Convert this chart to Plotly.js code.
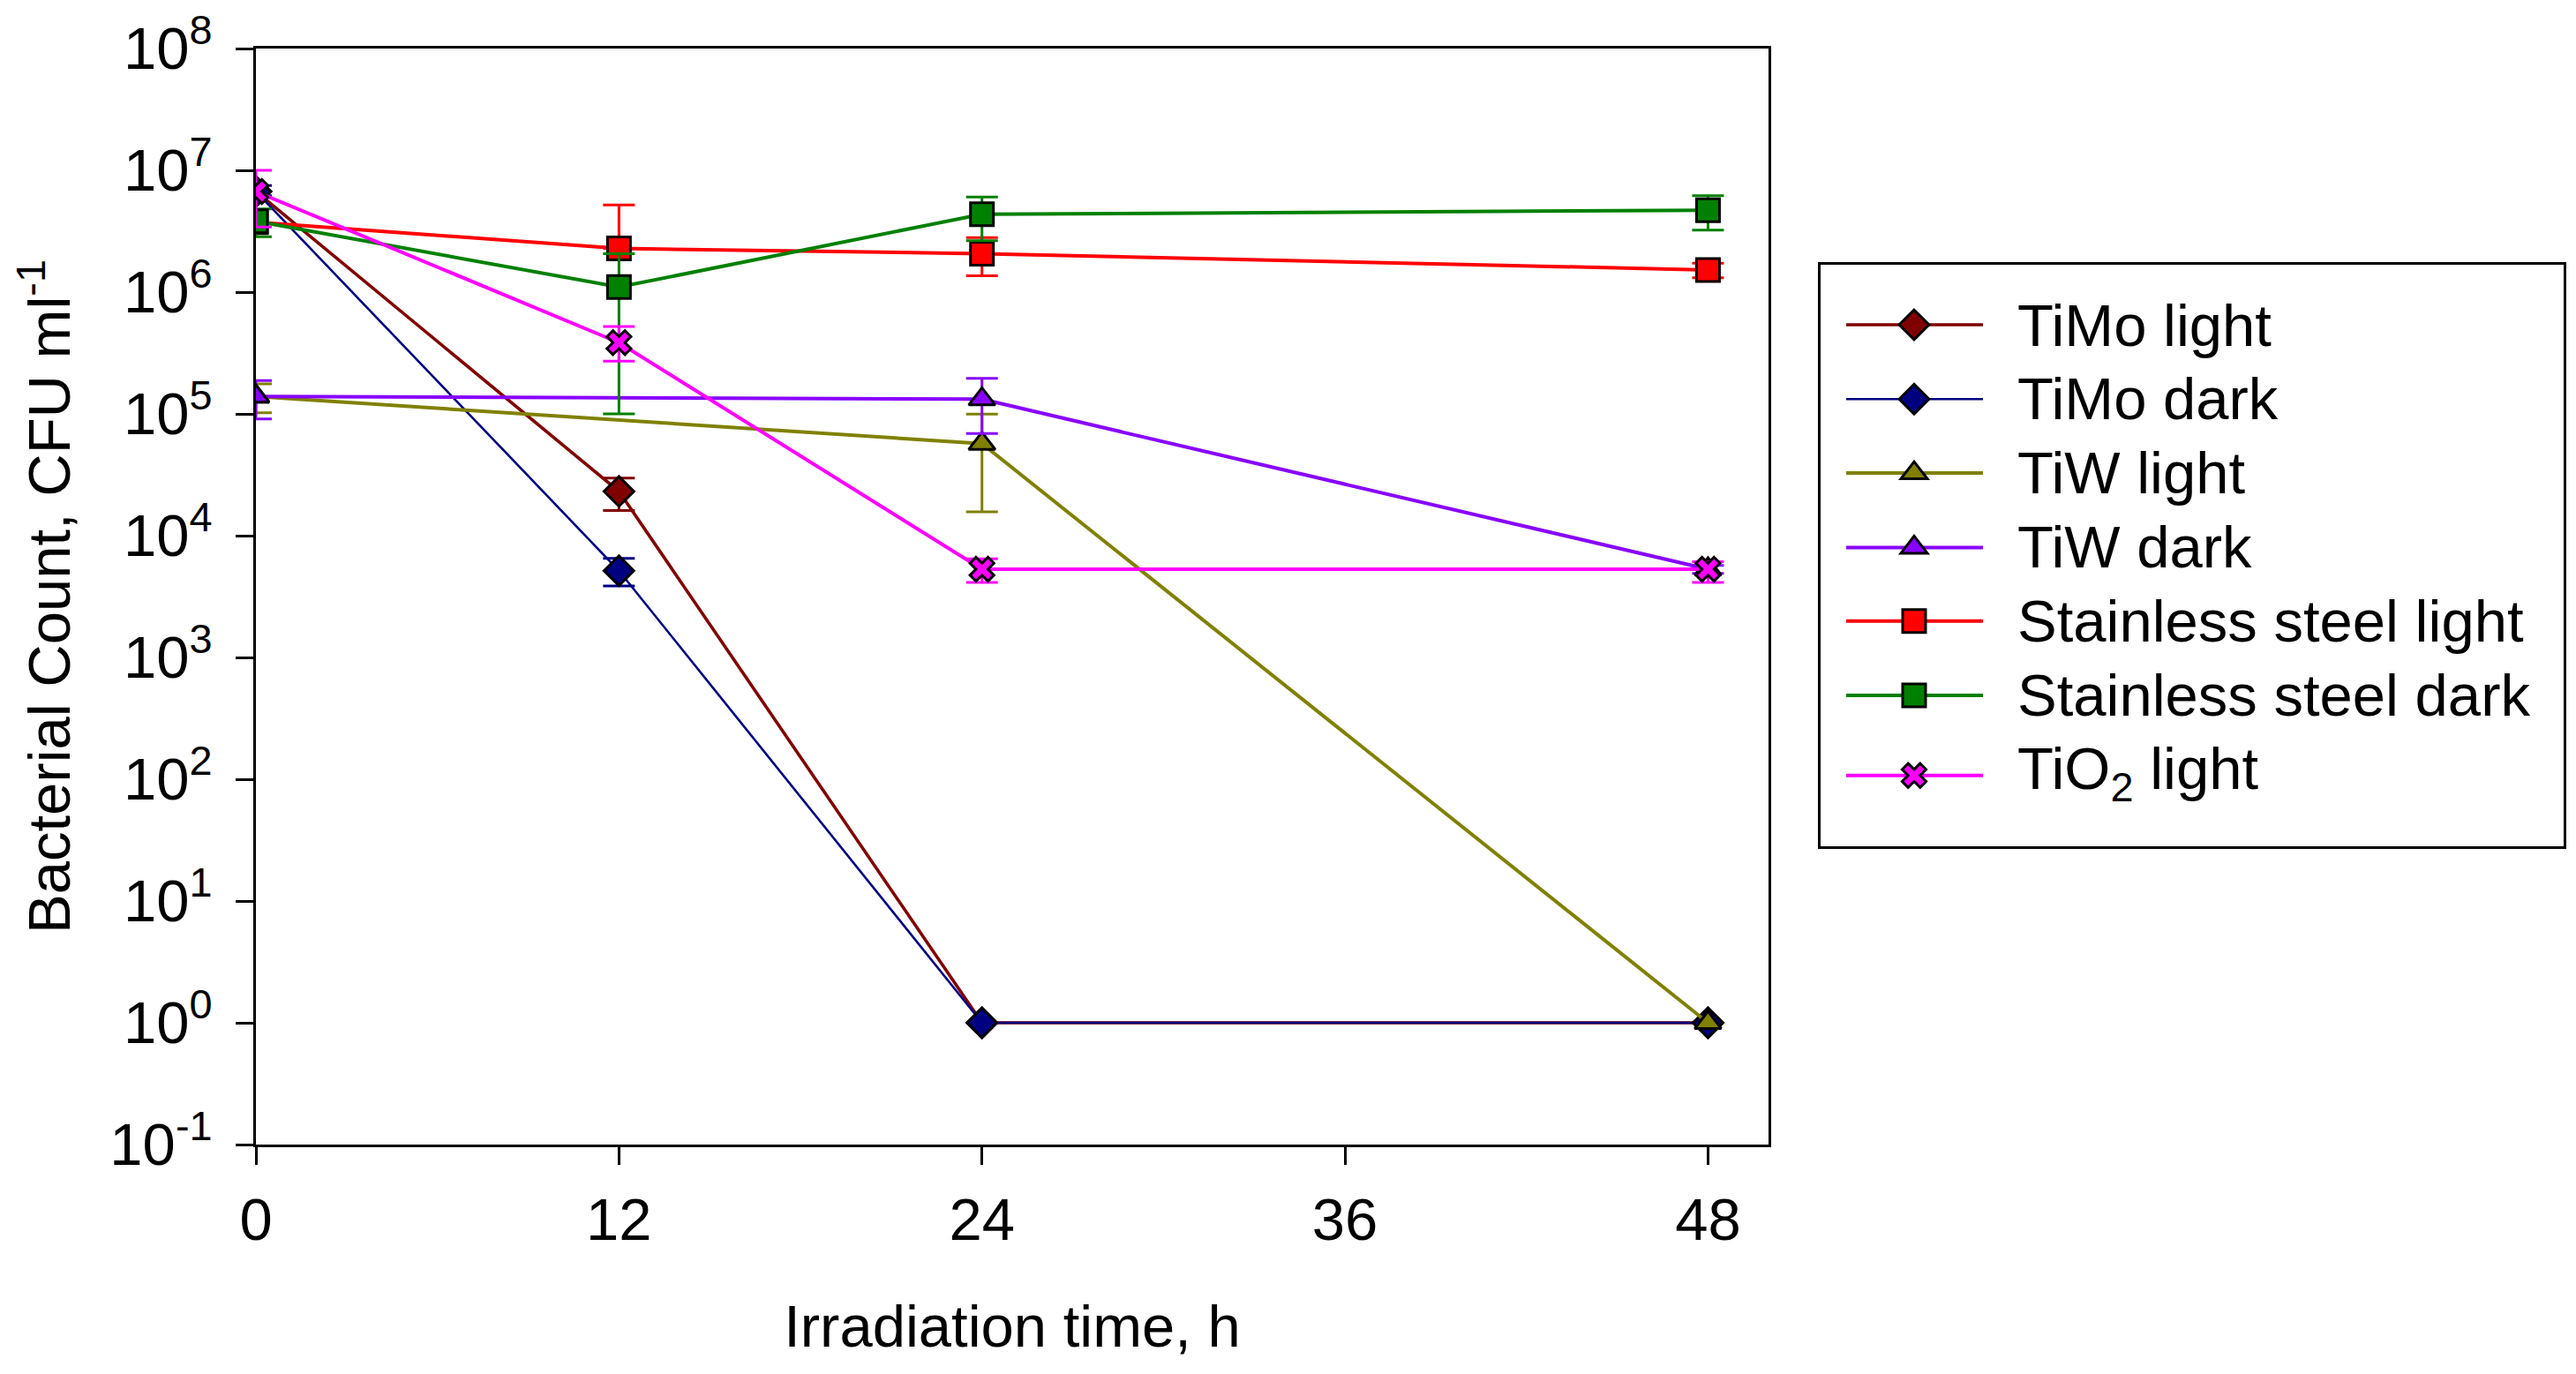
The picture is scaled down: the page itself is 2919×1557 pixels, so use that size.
<!DOCTYPE html>
<html>
<head>
<meta charset="utf-8">
<script src="https://cdn.plot.ly/plotly-3.0.1.min.js"></script>
<style>
html, body { margin: 0; padding: 0; background: #ffffff; }
#chart { width: 2919px; height: 1557px; }
</style>
</head>
<body>
<div id="chart"></div>
<script>
// ---------------- data ----------------
const hours = [0, 12, 24, 48];
const xTickVals = [0, 12, 24, 36, 48];
const xTickText = ['0', '12', '24', '36', '48'];
const yTickVals = [1e-1, 1e0, 1e1, 1e2, 1e3, 1e4, 1e5, 1e6, 1e7, 1e8];
const yTickText = ['10<sup>-1</sup>', '10<sup>0</sup>', '10<sup>1</sup>', '10<sup>2</sup>', '10<sup>3</sup>',
                   '10<sup>4</sup>', '10<sup>5</sup>', '10<sup>6</sup>', '10<sup>7</sup>', '10<sup>8</sup>'];

const seriesNames = ['TiMo light', 'TiMo dark', 'TiW light', 'TiW dark',
                     'Stainless steel light', 'Stainless steel dark', 'TiO<sub>2</sub> light'];

const timoLight      = [6.7e6, 2.31e4, 1, 1];
const timoLightUp    = [NaN, 6.6e3, NaN, NaN];
const timoLightDown  = [NaN, 7.0e3, NaN, NaN];

const timoDark       = [6.7e6, 5.15e3, 1, 1];
const timoDarkUp     = [0.8e6, 1.37e3, NaN, NaN];
const timoDarkDown   = [0.5e6, 1.29e3, NaN, NaN];

const tiwLight       = [1.39e5, null, 5.7e4, 1];
const tiwLightUp     = [3.7e4, NaN, 4.25e4, NaN];
const tiwLightDown   = [3.7e4, NaN, 4.13e4, NaN];

const tiwDark        = [1.39e5, null, 1.32e5, 5.3e3];
const tiwDarkUp      = [4.9e4, NaN, 6.4e4, 0.4e3];
const tiwDarkDown    = [4.8e4, NaN, 6.3e4, 0.4e3];

const steelLight     = [3.75e6, 2.28e6, 2.07e6, 1.52e6];
const steelLightUp   = [NaN, 2.91e6, 0.73e6, 0.21e6];
const steelLightDown = [NaN, 0, 0.71e6, 0.21e6];

const steelDark      = [3.82e6, 1.10e6, 4.36e6, 4.70e6];
const steelDarkUp    = [1.0e6, 0.97e6, 1.67e6, 1.49e6];
const steelDarkDown  = [0.97e6, 1.0e6, 1.72e6, 1.47e6];

const tio2Light      = [6.7e6, 3.85e5, 5.3e3, 5.3e3];
const tio2LightUp    = [3.3e6, 1.36e5, 1.14e3, 0.8e3];
const tio2LightDown  = [3.28e6, 1.14e5, 1.17e3, 1.17e3];

// ---------------- styles ----------------
const seriesValues = [timoLight, timoDark, tiwLight, tiwDark, steelLight, steelDark, tio2Light];
const seriesUp     = [timoLightUp, timoDarkUp, tiwLightUp, tiwDarkUp, steelLightUp, steelDarkUp, tio2LightUp];
const seriesDown   = [timoLightDown, timoDarkDown, tiwLightDown, tiwDarkDown, steelLightDown, steelDarkDown, tio2LightDown];
const seriesColors = ['#800000', '#000080', '#808000', '#8800ff', '#ff0000', '#008000', '#ff00ff'];
const seriesSymbols = ['diamond', 'diamond', 'triangle-up', 'triangle-up', 'square', 'square', 'x'];
const markerSizes  = [26, 26, 26, 26, 26, 26, 24];
const lineWidths   = [3.6, 2.6, 4, 4, 4, 4, 4];

const FONT = 'Liberation Sans, Arial, Helvetica, sans-serif';

const traces = seriesValues.map(function (vals, i) {
  return {
    type: 'scatter',
    mode: 'lines+markers',
    name: seriesNames[i],
    x: hours,
    y: vals,
    connectgaps: true,
    line: { color: seriesColors[i], width: lineWidths[i] },
    marker: { symbol: seriesSymbols[i], size: markerSizes[i], color: seriesColors[i],
              line: { color: '#000000', width: 3 } },
    error_y: { type: 'data', symmetric: false, array: seriesUp[i], arrayminus: seriesDown[i],
               visible: true, color: seriesColors[i], thickness: 3, width: 18 }
  };
});

const layout = {
  width: 2919,
  height: 1557,
  margin: { l: 290, r: 915, t: 55, b: 260, pad: 0 },
  paper_bgcolor: '#ffffff',
  plot_bgcolor: '#ffffff',
  font: { family: FONT, size: 67, color: '#000000' },
  showlegend: true,
  legend: {
    x: 1.03267, y: 0.80515, xanchor: 'left', yanchor: 'top',
    bgcolor: '#ffffff', bordercolor: '#000000', borderwidth: 3,
    font: { family: FONT, size: 67, color: '#000000' },
    itemwidth: 213, tracegroupgap: 0, traceorder: 'normal'
  },
  xaxis: {
    type: 'linear', range: [0, 50],
    tickmode: 'array', tickvals: xTickVals, ticktext: xTickText,
    ticks: 'outside', ticklen: 20, tickwidth: 3, tickcolor: '#000000',
    showline: true, linewidth: 3, linecolor: '#000000', mirror: true,
    showgrid: false, zeroline: false,
    tickfont: { family: FONT, size: 67, color: '#000000' },
    ticklabelstandoff: 5,
    title: { text: 'Irradiation time, h', font: { family: FONT, size: 67, color: '#000000' }, standoff: 61 }
  },
  yaxis: {
    type: 'log', range: [-1, 8],
    tickmode: 'array', tickvals: yTickVals, ticktext: yTickText,
    ticks: 'outside', ticklen: 20, tickwidth: 3, tickcolor: '#000000',
    showline: true, linewidth: 3, linecolor: '#000000', mirror: true,
    showgrid: false, zeroline: false,
    tickfont: { family: FONT, size: 67, color: '#000000' },
    ticklabelstandoff: 13,
    title: { text: 'Bacterial Count, CFU ml<sup>-1</sup>', font: { family: FONT, size: 67, color: '#000000' }, standoff: 23 }
  }
};

// legend geometry (pixels inside the legend box)
const legendRowY  = [71, 155.2, 239.1, 323.4, 406.8, 491.1, 581.7];
const legendTextY = [24, 23, 23, 23, 23, 23, 15.4];

function tuneLegend(gd) {
  const leg = gd.querySelector('g.legend');
  if (!leg) return;
  const sb = leg.querySelector('g.scrollbox');
  if (sb) sb.removeAttribute('clip-path');
  const bg = leg.querySelector('rect.bg');
  if (bg) { bg.setAttribute('width', 845); bg.setAttribute('height', 662); }
  const items = leg.querySelectorAll('g.traces');
  items.forEach(function (g, i) {
    g.setAttribute('transform', 'translate(3,' + legendRowY[i] + ')');
    g.querySelectorAll('g.legendlines path').forEach(function (p) { p.setAttribute('d', 'M29,0h155'); });
    const k = markerSizes[i] / 16;
    g.querySelectorAll('g.legendpoints path.scatterpts').forEach(function (p) {
      p.setAttribute('transform', 'translate(106,0) scale(' + k + ')');
      p.style.strokeWidth = (3 / k) + 'px';
    });
    const tx = g.querySelector('text.legendtext');
    if (tx) { tx.setAttribute('x', 223); tx.setAttribute('y', legendTextY[i]); }
  });
}

const gd = document.getElementById('chart');
Plotly.newPlot(gd, traces, layout, { staticPlot: true, displayModeBar: false }).then(function () {
  tuneLegend(gd);
});
</script>
</body>
</html>
